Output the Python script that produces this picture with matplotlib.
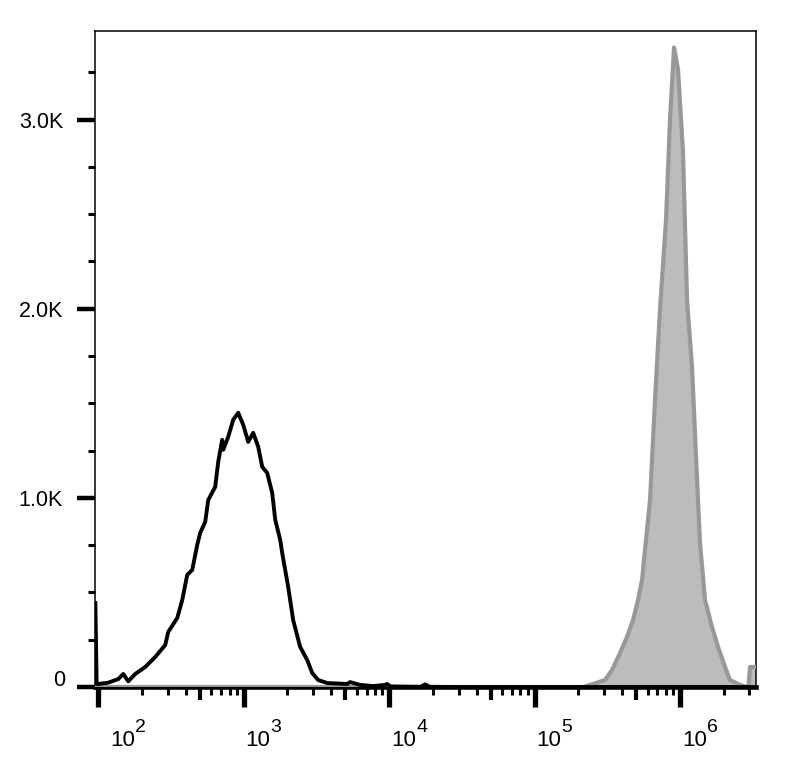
##### LIBRARIES ########################
import matplotlib
matplotlib.use("Agg")
import matplotlib.pyplot as plt
from matplotlib.ticker import FixedLocator, NullFormatter

plt.rcParams['font.family'] = ['Liberation Sans', 'DejaVu Sans']


##### DATA #####
# unstained control (black line): fluorescence intensity vs. event count
ctrl_x = [95.5, 97.5, 100.5, 117.2, 137.2, 148.5, 160.8, 179.6, 210.4, 246.5,
          288.7, 302.7, 349.1, 377.9, 409.0, 442.6, 478.9, 502.3, 543.7, 570.2,
          636.8, 667.9, 711.2, 722.8, 782.6, 847.2, 916.4, 992.2, 1074, 1162,
          1258, 1340, 1450, 1570, 1647, 1782, 1839, 2022, 2188, 2444, 2732,
          2957, 3251, 3750, 5144, 5395, 6319, 7762, 9387, 9680, 10200, 16500,
          17660, 19000, 27000, 3.3e6]
ctrl_y = [444, 16, 16, 23, 42, 69, 30, 69, 106, 159,
          222, 291, 365, 460, 593, 619, 751, 815, 873, 989,
          1058, 1190, 1307, 1254, 1323, 1413, 1450, 1386, 1296, 1344,
          1270, 1164, 1132, 1026, 884, 778, 709, 529, 354, 212, 143,
          74, 37, 21, 16, 26, 11, 5, 11, 16, 3, 1,
          14, 1, 0, 0]

# stained sample (grey filled)
stain_x = [95.5, 215400, 252400, 305100, 340900, 386900, 432200, 475300, 514500,
           548100, 574500, 622000, 673000, 728800, 801300, 853500, 909600,
           968600, 1048600, 1117000, 1209000, 1267000, 1329000, 1373000,
           1486000, 1659000, 1825000, 2039000, 2206000, 2585000, 2887000,
           2960000, 3027000, 3300000]
stain_y = [0, 0, 16, 37, 90, 180, 265, 354, 460,
           566, 725, 989, 1519, 2000, 2471, 3000, 3381,
           3265, 2825, 2048, 1693, 1344, 989, 760,
           460, 317, 212, 106, 37, 11, 0,
           0, 106, 106]

# axis ticks
y_major = [0, 1000, 2000, 3000]
y_labels = ['', '1.0K', '2.0K', '3.0K']
y_minor = [250, 500, 750, 1250, 1500, 1750, 2250, 2500, 2750, 3250]
decades = [2, 3, 4, 5, 6]
x_minor = [m * 10**d for d in decades for m in range(2, 10) if m * 10**d < 3.3e6]


##### PLOT #####
fig = plt.figure(figsize=(7.88, 7.63), dpi=100)
ax = fig.add_axes([0.1206, 0.0996, 0.8388, 0.8602])

# stained histogram
ax.fill_between(stain_x, stain_y, color='#bdbbbb', lw=0, zorder=2)
ax.plot(stain_x, stain_y, color='#999797', lw=3.0, zorder=3)
# control histogram
ax.plot(ctrl_x, ctrl_y, color='black', lw=2.8, zorder=4)

# scales
ax.set_xscale('log')
ax.set_xlim(95, 3.33e6)
ax.set_ylim(0, 3470)

# spines
for s in ['top', 'right', 'left']:
    ax.spines[s].set_linewidth(1.1)
ax.spines['bottom'].set_linewidth(3.3)

# y ticks
ax.yaxis.set_major_locator(FixedLocator(y_major))
ax.set_yticklabels(y_labels)
ax.yaxis.set_minor_locator(FixedLocator(y_minor))
ax.tick_params(axis='y', which='major', length=13, width=3.2, pad=10, labelsize=15.5)
ax.tick_params(axis='y', which='minor', length=5, width=2.2)
ax.annotate('0', xy=(0, 0), xycoords='axes fraction', xytext=(-30, 7),
            textcoords='offset pixels', ha='right', va='center', fontsize=15.5)

# x ticks
ax.xaxis.set_major_locator(FixedLocator([10**d for d in decades]))
ax.xaxis.set_major_formatter(NullFormatter())
ax.xaxis.set_minor_locator(FixedLocator(x_minor))
ax.xaxis.set_minor_formatter(NullFormatter())
ax.tick_params(axis='x', which='major', length=14.4, width=3.8)
ax.tick_params(axis='x', which='minor', length=6, width=2.2)
# longer ticks at the 5x positions
for tk, loc in zip(ax.xaxis.get_minor_ticks(len(x_minor)), x_minor):
    if str(loc).startswith('5'):
        tk.tick1line.set_markersize(9.5)
        tk.tick1line.set_markeredgewidth(3)

# decade labels
for d in decades:
    dx = 12 if d == 2 else 2
    ax.annotate('10', xy=(10**d, 0), xycoords=('data', 'axes fraction'),
                xytext=(dx, -59), textcoords='offset pixels',
                ha='left', va='baseline', fontsize=16)
    ax.annotate(str(d), xy=(10**d, 0), xycoords=('data', 'axes fraction'),
                xytext=(dx + 25, -45), textcoords='offset pixels',
                ha='left', va='baseline', fontsize=14)

plt.savefig('out.png', dpi=100)
plt.close()
